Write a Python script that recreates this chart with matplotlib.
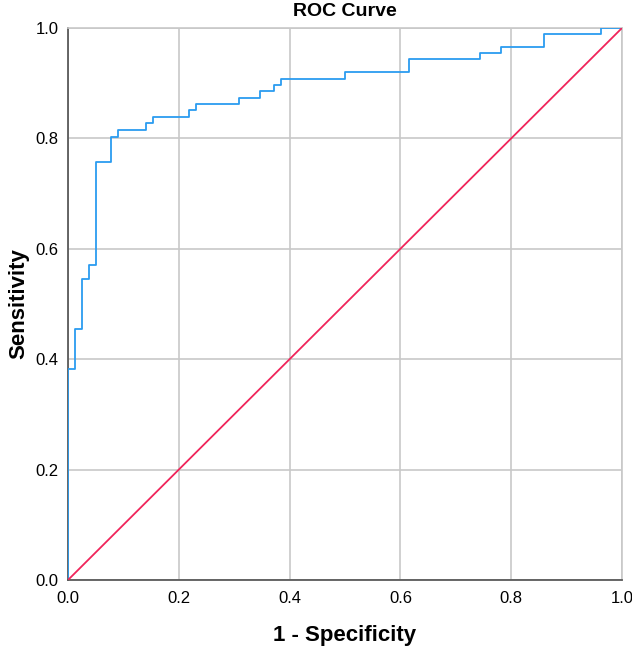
import numpy as np
import matplotlib.pyplot as plt

plt.rcParams['font.family'] = ['Liberation Sans', 'DejaVu Sans']

# ROC points (1 - specificity, sensitivity)
fpr = [0.0, 0.0, 0.0128, 0.0256, 0.0385, 0.0513, 0.0769, 0.0897, 0.141, 0.154,
       0.218, 0.231, 0.308, 0.346, 0.372, 0.385, 0.5, 0.615, 0.744, 0.782,
       0.859, 0.962, 1.0]
tpr = [0.0, 0.383, 0.455, 0.546, 0.571, 0.757, 0.803, 0.816, 0.828, 0.839,
       0.851, 0.862, 0.874, 0.886, 0.897, 0.908, 0.920, 0.943, 0.955, 0.966,
       0.990, 1.0, 1.0]
ticks = [0.0, 0.2, 0.4, 0.6, 0.8, 1.0]

fig = plt.figure(figsize=(6.32, 6.5), dpi=100)
ax = fig.add_axes([68 / 632, 70 / 650, 554 / 632, 552 / 650])

ax.grid(True, color='#c8c8c8', lw=1.2)
ax.set_axisbelow(True)
ax.step(fpr, tpr, where='post', color='#2b9cf0', lw=1.3, zorder=3)
ax.plot([0, 1], [0, 1], color='#f0245a', lw=1.3, zorder=3)

ax.set_xlim(0, 1)
ax.set_ylim(0, 1)
ax.set_xticks(ticks)
ax.set_yticks(ticks)
ax.set_xticklabels([f'{t:.1f}' for t in ticks])
ax.set_yticklabels([f'{t:.1f}' for t in ticks])
ax.tick_params(length=0, labelsize=12)
ax.tick_params(axis='x', pad=8)
ax.tick_params(axis='y', pad=7)

for s in ['left', 'bottom']:
    ax.spines[s].set_color('#5a5a5a')
    ax.spines[s].set_linewidth(1.3)
for s in ['top', 'right']:
    ax.spines[s].set_color('#c8c8c8')
    ax.spines[s].set_linewidth(1.2)

ax.set_title('ROC Curve', fontsize=14, fontweight='bold', pad=9)
ax.set_xlabel('1 - Specificity', fontsize=16, fontweight='bold', va='center')
ax.set_ylabel('Sensitivity', fontsize=16, fontweight='bold', va='center')
ax.xaxis.set_label_coords(0.5, -0.1)
ax.yaxis.set_label_coords(-0.088, 0.5)

fig.savefig('out.png', dpi=100)
